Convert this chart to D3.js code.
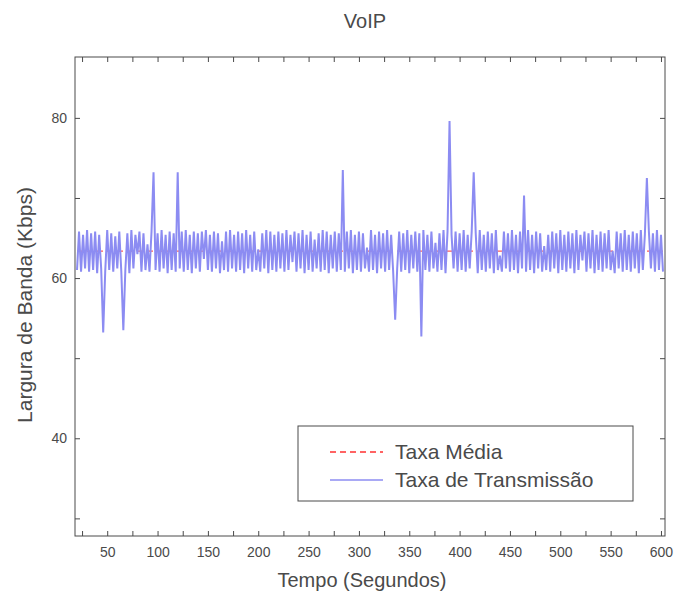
<!DOCTYPE html>
<html><head><meta charset="utf-8">
<script src="https://cdn.jsdelivr.net/npm/d3@7"></script>
<style>body{margin:0;background:#fff} text{font-family:"Liberation Sans",Arial,Helvetica,sans-serif}</style>
</head><body><svg id="c" width="676" height="602"></svg>
<script>
const chartTitle = "VoIP";
const xLabel = "Tempo (Segundos)";
const yLabel = "Largura de Banda (Kbps)";
const legendLabels = ["Taxa Média", "Taxa de Transmissão"];
const xTickLabels = [50, 100, 150, 200, 250, 300, 350, 400, 450, 500, 550, 600];
const yTickLabels = [40, 60, 80];
const xMinorTicks = [25, 75, 125, 175, 225, 275, 325, 375, 425, 475, 525, 575];
const yMinorTicks = [30, 50, 70];
const startTime = 20, timeStep = 2;
// Taxa de Transmissão (Kbps), one sample every 2 s from t = 20 s
const rates = [
 61.0,65.8,60.8,65.4,61.2,66.0,60.8,65.6,61.0,65.8,60.6,65.4,61.2,53.2,60.8,66.0,61.0,65.6,60.8,65.2,
 61.2,65.8,60.8,53.5,61.0,65.6,60.6,66.0,61.2,65.4,63.0,65.8,60.8,65.6,61.0,64.2,60.8,65.8,73.2,61.0,
 65.6,60.8,66.0,61.2,65.4,60.6,65.8,61.0,65.6,60.8,73.2,61.2,65.8,60.8,66.0,61.0,65.4,60.6,65.8,61.2,
 65.6,60.8,65.8,62.4,66.0,61.0,65.4,60.8,65.8,61.2,65.6,60.6,64.6,61.0,65.8,60.8,66.0,61.2,65.4,60.8,
 65.8,61.0,65.6,60.6,66.0,61.2,65.4,60.8,65.8,61.0,63.6,60.8,65.6,61.2,66.0,60.6,65.8,61.0,65.4,60.8,
 65.8,61.2,65.6,60.8,66.0,61.0,65.4,62.0,65.8,60.8,65.6,61.2,66.0,60.6,65.4,61.0,65.8,60.8,64.8,61.2,
 65.6,60.8,66.0,61.0,65.8,60.6,65.4,61.2,65.8,60.8,65.6,61.0,73.5,60.8,65.8,61.2,66.0,60.6,65.4,61.0,
 65.8,60.8,65.6,61.2,63.8,60.8,66.0,61.0,65.4,60.6,65.8,61.2,65.6,60.8,66.0,61.0,65.4,60.8,54.8,61.2,
 65.8,60.8,65.6,61.0,66.0,60.6,65.4,61.2,65.8,60.8,65.6,52.7,66.0,61.0,65.4,60.8,65.8,61.2,64.4,60.8,
 65.6,61.0,66.0,60.6,65.8,79.6,65.4,61.2,65.8,60.8,65.6,61.0,66.0,60.8,65.4,61.2,65.8,73.2,65.6,60.6,
 66.0,61.0,65.4,60.8,65.8,61.2,65.6,60.6,66.0,61.0,62.8,60.8,65.8,61.2,65.6,60.8,66.0,61.0,65.4,60.6,
 65.8,61.2,70.3,60.8,66.0,61.0,65.4,60.6,65.8,61.2,65.6,60.8,64.0,61.0,65.4,60.8,65.8,61.2,65.6,60.6,
 66.0,61.0,65.4,60.8,65.8,61.2,65.6,60.6,66.0,61.0,65.4,62.2,65.8,60.8,65.6,61.2,66.0,60.6,65.4,61.0,
 65.8,60.8,65.6,61.2,66.0,61.0,63.4,60.6,65.8,61.2,65.6,60.8,66.0,61.0,65.4,60.8,65.8,61.2,65.6,60.6,
 66.0,61.0,65.4,72.5,65.8,61.2,65.6,60.8,66.0,61.0,65.4,60.8
];
const meanRate = d3.mean(rates);

const svg = d3.select("#c");
const L = 75, R = 665, T = 57, B = 536;
const x = d3.scaleLinear().domain([18, 604]).range([L, R]);
const y = d3.scaleLinear().domain([27.8, 87.6]).range([B, T]);
const ink = "#4a4a4a";

svg.append("rect").attr("width", 676).attr("height", 602).attr("fill", "#fff");
svg.append("defs").append("clipPath").attr("id", "clip")
  .append("rect").attr("x", L).attr("y", T).attr("width", R - L).attr("height", B - T);

const pts = rates.map((v, i) => [startTime + i * timeStep, v]);
const plot = svg.append("g").attr("clip-path", "url(#clip)");
plot.append("line")
  .attr("x1", x(startTime)).attr("x2", x(pts[pts.length - 1][0]))
  .attr("y1", y(meanRate)).attr("y2", y(meanRate))
  .attr("stroke", "#ff3030").attr("stroke-dasharray", "6,4").attr("stroke-width", 1);
plot.append("path").datum(pts)
  .attr("d", d3.line().x(d => x(d[0])).y(d => y(d[1])))
  .attr("fill", "none").attr("stroke", "#8c8cf2").attr("stroke-width", 2).attr("stroke-linejoin", "bevel");

const xt = xTickLabels.concat(xMinorTicks).sort((a, b) => a - b);
const yt = yTickLabels.concat(yMinorTicks).sort((a, b) => a - b);
const fmtX = d => xTickLabels.includes(d) ? d : "";
const fmtY = d => yTickLabels.includes(d) ? d : "";

function style(g) {
  g.select(".domain").remove();
  g.selectAll(".tick line").attr("stroke", ink);
  g.selectAll(".tick text").attr("fill", ink).style("font-size", "14px");
}
svg.append("g").attr("transform", `translate(0,${B})`)
  .call(d3.axisBottom(x).tickValues(xt).tickSize(-5).tickPadding(11).tickFormat(fmtX)).call(style);
svg.append("g").attr("transform", `translate(0,${T})`)
  .call(d3.axisTop(x).tickValues(xt).tickSize(-5).tickFormat("")).call(style);
svg.append("g").attr("transform", `translate(${L},0)`)
  .call(d3.axisLeft(y).tickValues(yt).tickSize(-5).tickPadding(8).tickFormat(fmtY)).call(style);
svg.append("g").attr("transform", `translate(${R},0)`)
  .call(d3.axisRight(y).tickValues(yt).tickSize(-5).tickFormat("")).call(style);

svg.append("rect").attr("x", L).attr("y", T).attr("width", R - L).attr("height", B - T)
  .attr("fill", "none").attr("stroke", ink).attr("stroke-width", 1);

svg.append("text").attr("x", (L + R) / 2 - 5).attr("y", 28).attr("text-anchor", "middle")
  .attr("fill", ink).style("font-size", "20px").text(chartTitle);
svg.append("text").attr("x", (L + R) / 2 - 8).attr("y", 587).attr("text-anchor", "middle")
  .attr("fill", ink).style("font-size", "20px").text(xLabel);
svg.append("text").attr("transform", "translate(32,305) rotate(-90)").attr("text-anchor", "middle")
  .attr("fill", ink).style("font-size", "21px").text(yLabel);

const lg = svg.append("g");
lg.append("rect").attr("x", 298).attr("y", 426).attr("width", 335).attr("height", 75)
  .attr("fill", "#fff").attr("stroke", ink);
const legendStyles = [{c: "#ff3030", d: "6,4"}, {c: "#8c8cf2", d: null}];
legendLabels.forEach((lab, i) => {
  const yy = 452 + i * 28;
  lg.append("line").attr("x1", 330).attr("x2", 383).attr("y1", yy).attr("y2", yy)
    .attr("stroke", legendStyles[i].c).attr("stroke-dasharray", legendStyles[i].d).attr("stroke-width", 1.5);
  lg.append("text").attr("x", 395).attr("y", yy).attr("dy", "0.35em")
    .attr("fill", ink).style("font-size", "21px").text(lab);
});
</script></body></html>
